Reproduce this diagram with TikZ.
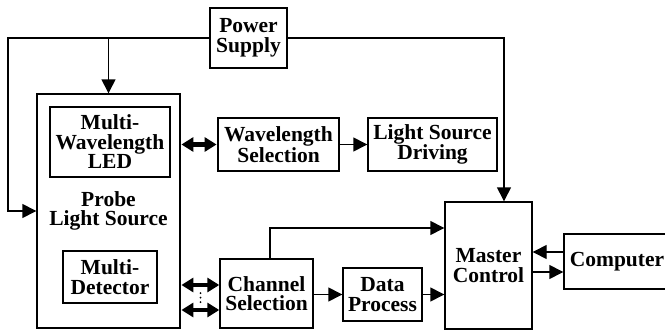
\documentclass[tikz,border=0pt]{standalone}
\usepackage{fontspec}
\setmainfont{Liberation Serif}
\usetikzlibrary{arrows.meta,calc}
\begin{document}
\begin{tikzpicture}[x=1pt,y=1pt,
  box/.style={draw,line width=1.4pt,align=center,inner sep=0pt,
    font=\fontsize{21.5}{19.5}\selectfont\bfseries},
  arr/.style={line width=1.4pt,-{Triangle[length=14pt,width=14pt]}},
  dbl/.style={line width=4.2pt,{Triangle[length=12pt,width=14pt]}-{Triangle[length=12pt,width=14pt]},shorten <=0.7pt,shorten >=0.7pt},
  dot/.style={circle,fill,inner sep=0pt,minimum size=2pt}]
\useasboundingbox (0,0) rectangle (665,333);

% blocks
\node[box,minimum width=77pt,minimum height=60pt] (power) at (248.5,295) {Power\\Supply};
\node[box,minimum width=143pt,minimum height=234pt] (probe) at (108.5,122) {Probe\\Light Source};
\node[box,minimum width=120pt,minimum height=70pt] (led) at (110,191) {Multi-\\Wavelength\\LED};
\node[box,minimum width=94pt,minimum height=52pt] (det) at (110,56) {Multi-\\Detector};
\node[box,minimum width=121pt,minimum height=53pt] (wave) at (278.5,188.5) {Wavelength\\Selection};
\node[box,minimum width=129pt,minimum height=53pt] (drive) at (432.5,188.5) {Light Source\\Driving};
\node[box,minimum width=93pt,minimum height=69pt] (chan) at (266.5,39.5) {Channel\\Selection};
\node[box,minimum width=79pt,minimum height=53pt] (data) at (382.5,38.5) {Data\\Process};
\node[box,minimum width=87pt,minimum height=127pt] (master) at (488.5,67.5) {Master\\Control};
\node[box,minimum width=106pt,minimum height=55pt] (comp) at (617,71.5) {Computer};

% power distribution
\coordinate (pl) at (8,295);
\coordinate (pr) at (504,295);
\draw[arr] (power.west) -- (pl) |- (probe.west);
\draw[arr] (probe.north |- power.west) -- (probe.north);
\draw[arr] (power.east) -- (pr) -- (pr |- master.north);

% light source path
\draw[dbl] (probe.east |- wave.west) -- (wave.west);
\draw[arr] (wave.east) -- (drive.west);

% detector channels
\coordinate (c1) at (220,48);
\coordinate (c2) at (220,23);
\draw[dbl] (probe.east |- c1) -- (c1);
\draw[dbl] (probe.east |- c2) -- (c2);
\node[dot] (d1) at (200.5,40) {};
\node[dot] (d2) at (200.5,35.5) {};
\node[dot] (d3) at (200.5,31) {};

% signal path to master control
\coordinate (ct) at (270,105);
\draw[arr] (ct |- chan.north) -- (ct) -- (ct -| master.west);
\draw[arr] (chan.east |- data.west) -- (data.west);
\draw[arr] (data.east) -- (data.east -| master.west);

% computer link
\coordinate (k1) at (564,81);
\coordinate (k2) at (532,61);
\draw[arr] (k1) -- (k1 -| master.east);
\draw[arr] (k2) -- (k2 -| comp.west);
\end{tikzpicture}
\end{document}
